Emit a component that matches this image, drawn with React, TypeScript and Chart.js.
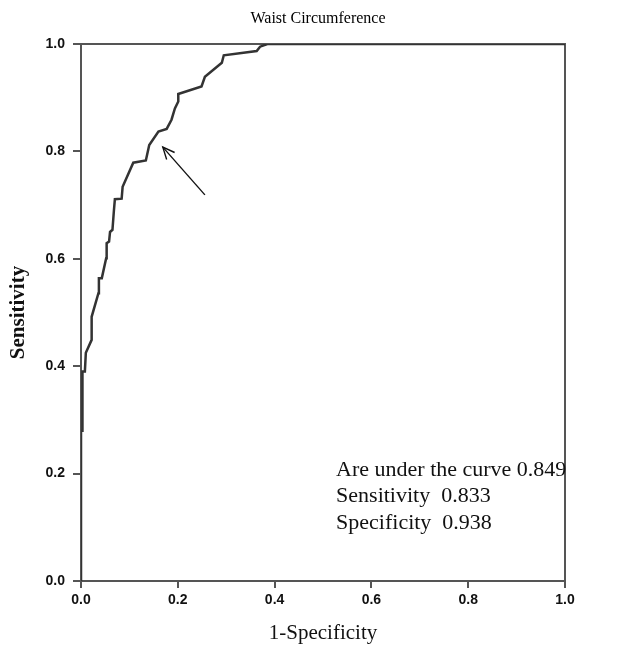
import React, { useEffect, useRef } from "react";
import { Chart, registerables } from "chart.js";

Chart.register(...registerables);

const chartTitle = "Waist Circumference";
const xAxisTitle = "1-Specificity";
const yAxisTitle = "Sensitivity";

const falsePositiveRate = [
  0, 0, 0.003, 0.003, 0.008, 0.01, 0.022, 0.022, 0.036, 0.037,
  0.043, 0.052, 0.053, 0.058, 0.06, 0.065, 0.068, 0.07, 0.084, 0.086,
  0.108, 0.134, 0.141, 0.16, 0.177, 0.187, 0.194, 0.201, 0.201, 0.249,
  0.256, 0.291, 0.295, 0.363, 0.37, 0.385, 1.0,
];
const sensitivityValues = [
  0, 0.28, 0.28, 0.39, 0.39, 0.425, 0.449, 0.492, 0.536, 0.564,
  0.564, 0.601, 0.629, 0.632, 0.65, 0.654, 0.69, 0.711, 0.712, 0.734,
  0.779, 0.783, 0.812, 0.837, 0.842, 0.859, 0.88, 0.893, 0.907, 0.921,
  0.939, 0.965, 0.979, 0.987, 0.995, 1.0, 1.0,
];

const tickValues = [0, 0.2, 0.4, 0.6, 0.8, 1.0];

// arrow from (x0,y0) to head (x1,y1) in data units
const arrowStart = [0.256, 0.719];
const arrowEnd = [0.169, 0.808];

const annotationLines = [
  "Are under the curve 0.849",
  "Sensitivity  0.833",
  "Specificity  0.938",
];
const annotationX = 0.527;
const annotationY = [0.207, 0.157, 0.108];

const AXIS_COLOR = "#555555";

const overlayPlugin = {
  id: "overlay",
  beforeDatasetsDraw(chart: any) {
    const { ctx, chartArea } = chart;
    ctx.save();
    ctx.strokeStyle = AXIS_COLOR;
    ctx.lineWidth = 2;
    ctx.beginPath();
    ctx.moveTo(chartArea.left, chartArea.top);
    ctx.lineTo(chartArea.right, chartArea.top);
    ctx.lineTo(chartArea.right, chartArea.bottom);
    ctx.stroke();
    ctx.restore();
  },
  afterDraw(chart: any) {
    const { ctx, scales } = chart;
    const xs = scales.x;
    const ys = scales.y;
    ctx.save();
    // title
    ctx.fillStyle = "#000";
    ctx.font = "16px 'Liberation Serif'";
    ctx.textAlign = "center";
    ctx.textBaseline = "middle";
    ctx.fillText(chartTitle, (xs.left + xs.right) / 2 - 5, 19);

    // arrow
    const x0 = xs.getPixelForValue(arrowStart[0]);
    const y0 = ys.getPixelForValue(arrowStart[1]);
    const x1 = xs.getPixelForValue(arrowEnd[0]);
    const y1 = ys.getPixelForValue(arrowEnd[1]);
    ctx.strokeStyle = "#111";
    ctx.lineWidth = 1.4;
    ctx.beginPath();
    ctx.moveTo(x0, y0);
    ctx.lineTo(x1, y1);
    ctx.stroke();
    const ang = Math.atan2(y1 - y0, x1 - x0);
    const hl = 13;
    const spread = 0.42;
    ctx.beginPath();
    ctx.moveTo(x1 - hl * Math.cos(ang - spread), y1 - hl * Math.sin(ang - spread));
    ctx.lineTo(x1, y1);
    ctx.lineTo(x1 - hl * Math.cos(ang + spread), y1 - hl * Math.sin(ang + spread));
    ctx.stroke();

    // annotation
    ctx.fillStyle = "#111";
    ctx.font = "22px 'Liberation Serif'";
    ctx.textAlign = "left";
    ctx.textBaseline = "middle";
    annotationLines.forEach((t, i) => {
      ctx.fillText(t, xs.getPixelForValue(annotationX), ys.getPixelForValue(annotationY[i]));
    });
    ctx.restore();
  },
};

export default function App() {
  const ref = useRef<HTMLCanvasElement>(null);
  useEffect(() => {
    document.body.style.margin = "0";
    const canvas = ref.current!;
    const points = falsePositiveRate.map((x, i) => ({ x, y: sensitivityValues[i] }));
    const chart = new Chart(canvas, {
      type: "scatter",
      data: {
        datasets: [
          {
            data: points,
            showLine: true,
            borderColor: "#333333",
            borderWidth: 2.5,
            pointRadius: 0,
            tension: 0,
            fill: false,
          },
        ],
      },
      options: {
        responsive: false,
        animation: false,
        layout: { padding: { top: 44, right: 67, left: 0, bottom: 0 } },
        plugins: {
          legend: { display: false },
          tooltip: { enabled: false },
          title: { display: false },
        },
        scales: {
          x: {
            type: "linear",
            min: 0,
            max: 1,
            afterBuildTicks: (s: any) => {
              s.ticks = tickValues.map((v) => ({ value: v }));
            },
            afterFit: (s: any) => {
              s.height = 69;
            },
            ticks: {
              color: "#111",
              font: { family: "'Liberation Sans'", size: 14, weight: "bold" },
              padding: 4,
              callback: (v: any) => Number(v).toFixed(1),
            },
            grid: {
              display: true,
              drawOnChartArea: false,
              drawTicks: true,
              tickLength: 7,
              color: AXIS_COLOR,
              lineWidth: 2,
            },
            border: { display: true, color: AXIS_COLOR, width: 2 },
            title: {
              display: true,
              text: xAxisTitle,
              color: "#111",
              font: { family: "'Liberation Serif'", size: 21 },
              padding: { top: 0, bottom: 4 },
            },
          },
          y: {
            type: "linear",
            min: 0,
            max: 1,
            afterBuildTicks: (s: any) => {
              s.ticks = tickValues.map((v) => ({ value: v }));
            },
            afterFit: (s: any) => {
              s.width = 81;
            },
            ticks: {
              color: "#111",
              font: { family: "'Liberation Sans'", size: 14, weight: "bold" },
              padding: 8,
              callback: (v: any) => Number(v).toFixed(1),
            },
            grid: {
              display: true,
              drawOnChartArea: false,
              drawTicks: true,
              tickLength: 8,
              color: AXIS_COLOR,
              lineWidth: 2,
            },
            border: { display: true, color: AXIS_COLOR, width: 2 },
            title: {
              display: true,
              text: yAxisTitle,
              color: "#111",
              font: { family: "'Liberation Serif'", size: 21, weight: "bold" },
              padding: { top: 6, bottom: 0 },
            },
          },
        },
      },
      plugins: [overlayPlugin],
    });
    return () => chart.destroy();
  }, []);
  return (
    <div style={{ width: 632, height: 650, background: "#fff" }}>
      <canvas ref={ref} width={632} height={650} />
    </div>
  );
}
